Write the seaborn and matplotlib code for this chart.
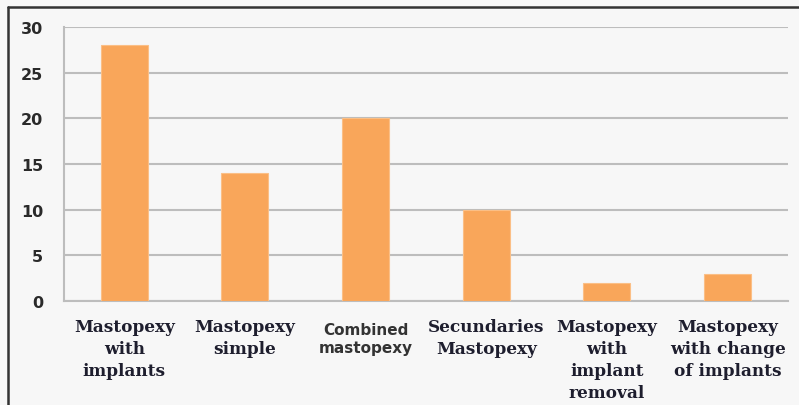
#Importations
import numpy as np
import pandas as pd
import seaborn as sns
import matplotlib.pyplot as plt
from matplotlib.lines import Line2D

#Data
categories = ['Mastopexy\nwith\nimplants', 'Mastopexy\nsimple', 'Combined\nmastopexy',
              'Secundaries\nMastopexy', 'Mastopexy\nwith\nimplant\nremoval',
              'Mastopexy\nwith change\nof implants']
counts = [28, 14, 20, 10, 2, 3]
y_ticks = [0, 5, 10, 15, 20, 25, 30]

df = pd.DataFrame({'type': categories, 'count': counts})

#Style
sns.set_style('white')
bg = '#F7F7F7'
grid_col = '#BDBDBD'

fig = plt.figure(figsize=(7.99, 4.06), dpi=100, facecolor=bg)
ax = fig.add_axes([0.0801, 0.256, 0.906, 0.675], facecolor=bg)

sns.barplot(data=df, x='type', y='count', color='#F9A65A', saturation=1,
            width=0.39, edgecolor='#FBBF86', linewidth=0.8, ax=ax, zorder=3)

ax.set_xlim(-0.5, len(categories) - 0.5)
ax.set_ylim(0, 30)
ax.set_yticks(y_ticks)
ax.set_yticklabels([str(t) for t in y_ticks], fontsize=11.5, fontweight='bold',
                   color='#2a2a2a', family='DejaVu Sans')
ax.yaxis.grid(True, color=grid_col, linewidth=1.5, zorder=0)
ax.tick_params(axis='y', length=5, width=1.5, color=grid_col, pad=10)

# category boundaries as ticks, category names written below the bars
ax.set_xticks(np.arange(-0.5, len(categories), 1.0))
ax.set_xticklabels([])
ax.tick_params(axis='x', length=5, width=1.5, color=grid_col)
for i, name in enumerate(categories):
    if name.startswith('Combined'):
        # this one label uses a sans font, set a bit lower
        ax.annotate(name, xy=(i, 0), xycoords=('data', 'axes fraction'),
                    xytext=(0, -15), textcoords='offset points', ha='center', va='top',
                    fontsize=11, fontweight='bold', family='DejaVu Sans',
                    color='#333333', linespacing=1.3)
    else:
        ax.annotate(name, xy=(i, 0), xycoords=('data', 'axes fraction'),
                    xytext=(0, -12), textcoords='offset points', ha='center', va='top',
                    fontsize=12.2, fontweight='bold', family='DejaVu Serif',
                    color='#1e1e2e', linespacing=1.38)

ax.set_xlabel('')
ax.set_ylabel('')
for side in ['top', 'right']:
    ax.spines[side].set_visible(False)
for side in ['left', 'bottom']:
    ax.spines[side].set_color(grid_col)
    ax.spines[side].set_linewidth(1.5)

# frame of the picture (left and top edge)
fig.add_artist(Line2D([0.0095, 0.0095], [0, 0.981], color='#333333', linewidth=1.8))
fig.add_artist(Line2D([0.0095, 1.0], [0.981, 0.981], color='#333333', linewidth=1.8))

fig.savefig('out.png', dpi=100, facecolor=bg)
